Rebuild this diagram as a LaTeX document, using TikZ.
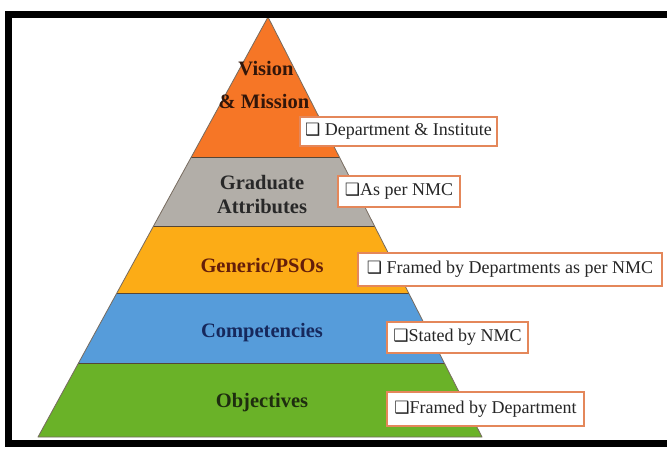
\documentclass[tikz,border=0pt]{standalone}
\usepackage{fontspec}
\setmainfont{Liberation Serif}
\newfontfamily\dvsymfont{DejaVu Sans}
\usetikzlibrary{calc}
\definecolor{lyorange}{RGB}{246,118,38}
\definecolor{lygray}{RGB}{178,174,168}
\definecolor{lyyellow}{RGB}{252,172,22}
\definecolor{lyblue}{RGB}{86,156,218}
\definecolor{lygreen}{RGB}{106,178,40}
\definecolor{sepc}{RGB}{85,70,55}
\definecolor{boxc}{RGB}{228,135,90}
\definecolor{txvision}{RGB}{50,22,10}
\definecolor{txgrad}{RGB}{40,40,40}
\definecolor{txgen}{RGB}{100,30,10}
\definecolor{txcomp}{RGB}{22,40,92}
\definecolor{txobj}{RGB}{30,45,15}
\newcommand{\bxsym}{{\dvsymfont\fontsize{17}{17}\selectfont ❑}}
\begin{document}
\begin{tikzpicture}[x=1pt,y=-1pt,
  tag/.style={draw=boxc, line width=1.8pt, fill=white, inner sep=2pt,
    font=\fontsize{18}{20}\selectfont, text=black!85},
  lvl/.style={anchor=base, font=\bfseries\fontsize{20.5}{22}\selectfont},
  sepline/.style={draw=sepc, line width=1.4pt},
  edgeline/.style={draw=sepc!80, line width=0.8pt, line join=round}]
\useasboundingbox (0,0) rectangle (667,455);
\clip (0,0) rectangle (667,455);
\fill[white] (0,0) rectangle (667,455);
% pyramid geometry
\coordinate (A) at (268,17);
\coordinate (BL) at (38,437);
\coordinate (BR) at (482,437);
\coordinate (L1) at ($(A)!0.3345!(BL)$);
\coordinate (R1) at ($(A)!0.3345!(BR)$);
\coordinate (L2) at ($(A)!0.4988!(BL)$);
\coordinate (R2) at ($(A)!0.4988!(BR)$);
\coordinate (L3) at ($(A)!0.6583!(BL)$);
\coordinate (R3) at ($(A)!0.6583!(BR)$);
\coordinate (L4) at ($(A)!0.8250!(BL)$);
\coordinate (R4) at ($(A)!0.8250!(BR)$);
% layers
\fill[lyorange] (A) -- (L1) -- (R1) -- cycle;
\fill[lygray] (L1) -- (L2) -- (R2) -- (R1) -- cycle;
\fill[lyyellow] (L2) -- (L3) -- (R3) -- (R2) -- cycle;
\fill[lyblue] (L3) -- (L4) -- (R4) -- (R3) -- cycle;
\fill[lygreen] (L4) -- (BL) -- (BR) -- (R4) -- cycle;
% separators and outline
\draw[sepline] (L1) -- (R1);
\draw[sepline] (L2) -- (R2);
\draw[sepline] (L3) -- (R3);
\draw[sepline] (L4) -- (R4);
\draw[edgeline] (A) -- (BL) -- (BR) -- cycle;
% frame
\draw[line width=7pt] (8.5,14) rectangle (700,443);
% level labels
\node[lvl, text=txvision] (v1) at (266,75) {Vision};
\node[lvl, text=txvision] (v2) at (264,108) {\& Mission};
\node[lvl, text=txgrad] (g1) at (262,189) {Graduate};
\node[lvl, text=txgrad] (g2) at (262,213) {Attributes};
\node[lvl, text=txgen] (gen) at (262,272) {Generic/PSOs};
\node[lvl, text=txcomp] (comp) at (262,337) {Competencies};
\node[lvl, text=txobj] (obj) at (262,407) {Objectives};
% tags
\node[tag, minimum width=197pt, minimum height=29pt] (t1) at (398.5,131.5) {\bxsym\ Department \& Institute};
\node[tag, minimum width=122pt, minimum height=31pt] (t2) at (399,191.5) {\bxsym As per NMC};
\node[tag, minimum width=304pt, minimum height=33pt] (t3) at (510,269.5) {\bxsym\ Framed by Departments as per NMC};
\node[tag, minimum width=141pt, minimum height=31pt] (t4) at (457.5,337.5) {\bxsym Stated by NMC};
\node[tag, minimum width=197pt, minimum height=34pt] (t5) at (485.5,409) {\bxsym Framed by Department};
\end{tikzpicture}
\end{document}
